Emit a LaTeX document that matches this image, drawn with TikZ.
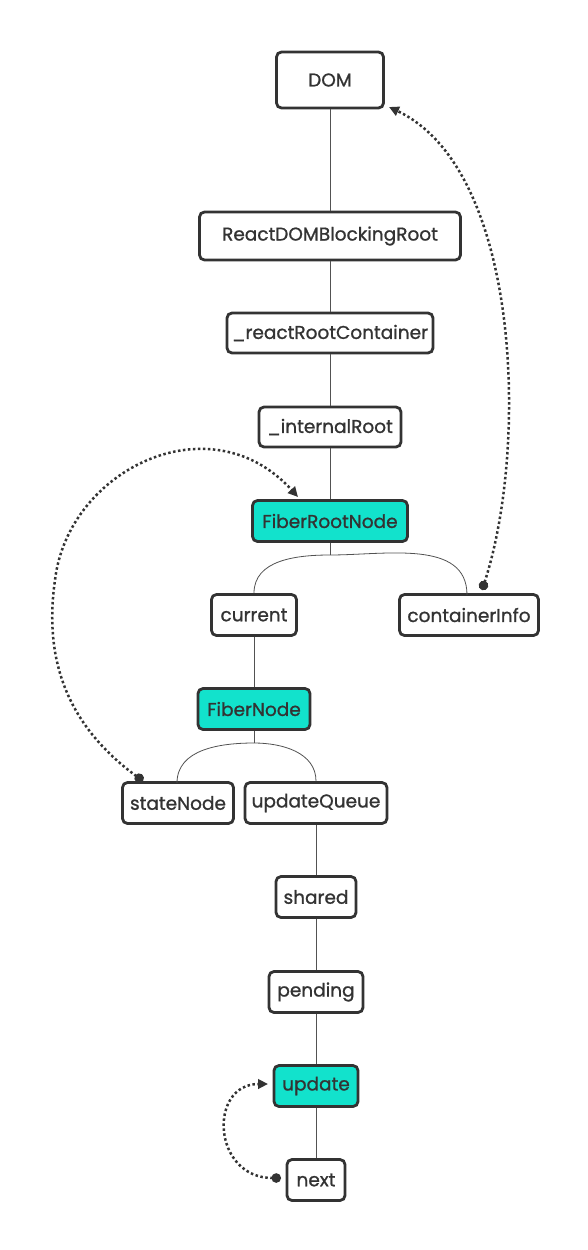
\documentclass[tikz,border=0pt]{standalone}
\usepackage{fontspec}
\setmainfont{Poppins}
\newfontfamily\boxfont{Poppins}[FakeBold=1]
\usetikzlibrary{arrows.meta}
\definecolor{tealfill}{HTML}{12E2CC}
\definecolor{ink}{HTML}{333333}
\begin{document}
\begin{tikzpicture}[x=1pt,y=-1pt,
 box/.style={draw=ink, line width=2.8pt, rounded corners=5pt, fill=white, text=ink,
   font=\boxfont\fontsize{18.5}{22}\selectfont, inner sep=0pt, minimum height=41pt},
 hl/.style={box, fill=tealfill},
 link/.style={draw=ink!85, line width=0.8pt},
 refarrow/.style={draw=ink, line width=2.5pt, dash pattern=on 2.5pt off 2.5pt,
   {Circle[length=9.5pt]}-{Triangle[length=10pt,width=9.5pt]}}]
\useasboundingbox (0,0) rectangle (588,1250);
\node[box, minimum width=107pt, minimum height=56pt] (dom) at (330,80) {DOM};
\node[box, minimum width=261pt, minimum height=48pt] (rdbr) at (330,236) {ReactDOMBlockingRoot};
\node[box, minimum width=206pt, minimum height=40pt] (rrc) at (330,333) {\_reactRootContainer};
\node[box, minimum width=142pt, minimum height=40pt] (ir) at (330,427) {\_internalRoot};
\node[hl, minimum width=155pt] (frn) at (330,521) {FiberRootNode};
\node[box, minimum width=85pt] (cur) at (254,615) {current};
\node[box, minimum width=139pt] (ci) at (469,615) {containerInfo};
\node[hl, minimum width=112pt] (fn) at (254,709) {FiberNode};
\node[box, minimum width=111pt] (sn) at (178,803) {stateNode};
\node[box, minimum width=142pt] (uq) at (316,803) {updateQueue};
\node[box, minimum width=80pt] (sh) at (316,897) {shared};
\node[box, minimum width=94pt] (pe) at (316,992) {pending};
\node[hl, minimum width=84pt] (up) at (316,1086) {update};
\node[box, minimum width=58pt] (nx) at (316,1180) {next};

\draw[link] (dom) -- (rdbr);
\draw[link] (rdbr) -- (rrc);
\draw[link] (rrc) -- (ir);
\draw[link] (ir) -- (frn);
\coordinate (s1) at (330,555);
\draw[link] (frn.south) -- (s1);
\draw[link] (s1) to[out=180,in=90] (cur.north);
\draw[link] (s1) to[out=0,in=90] (467,595);
\draw[link] (cur) -- (fn);
\coordinate (s2) at (254,743);
\draw[link] (fn.south) -- (s2);
\draw[link] (s2) to[out=180,in=90] (177,783);
\draw[link] (s2) to[out=0,in=90] (uq.north);
\draw[link] (uq) -- (sh);
\draw[link] (sh) -- (pe);
\draw[link] (pe) -- (up);
\draw[link] (up) -- (nx);

\coordinate (ciStart) at (482,590);
\coordinate (domEnd) at (389,107);
\draw[refarrow] (ciStart) .. controls (528,450) and (522,170) .. (domEnd);

\coordinate (snStart) at (143,781);
\coordinate (frnEnd) at (298,497);
\draw[refarrow] (snStart) .. controls (60,720) and (45,650) .. (55,580)
  .. controls (68,470) and (210,400) .. (frnEnd);

\coordinate (nxStart) at (281,1178);
\coordinate (upEnd) at (268,1084);
\draw[refarrow] (nxStart) .. controls (212,1178) and (208,1084) .. (upEnd);
\end{tikzpicture}
\end{document}
